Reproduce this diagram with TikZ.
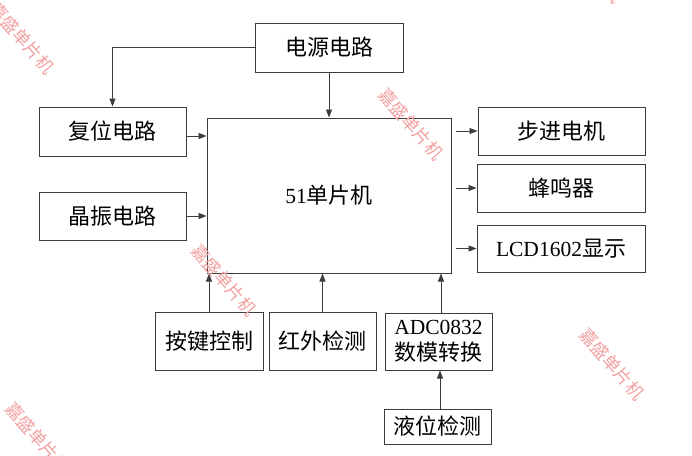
\documentclass[tikz,border=0pt]{standalone}
\usepackage{fontspec}
\setmainfont{Liberation Serif}
\newfontfamily\cjkfam{Noto Sans CJK SC}
\newcommand{\cj}{\cjkfam\fontsize{22}{28}\selectfont}
\usetikzlibrary{arrows.meta}
\definecolor{linec}{RGB}{60,60,60}
\definecolor{wmark}{RGB}{243,160,160}
\tikzset{
  box/.style={draw=linec, line width=1pt, fill=white, inner sep=0pt, align=center,
    font=\fontsize{21.5}{28}\selectfont, text=black},
  arr/.style={draw=linec, line width=0.8pt, -{Triangle[length=8pt,width=6pt]}},
  wm/.style={text=wmark, font=\cjkfam\fontsize{17.5}{17.5}\selectfont, rotate=-49}
}
\begin{document}
\begin{tikzpicture}[x=1pt,y=-1pt]
\useasboundingbox (0,0) rectangle (692,455);
\clip (0,0) rectangle (692,455);
\fill[white] (0,0) rectangle (692,455);
% boxes
\node[box, minimum width=148pt, minimum height=49pt] (pwr) at (329,47.5) {\cj 电源电路};
\node[box, minimum width=147pt, minimum height=49pt] (rst) at (112.5,131.5) {\cj 复位电路};
\node[box, minimum width=147pt, minimum height=48pt] (osc) at (112.5,216) {\cj 晶振电路};
\node[box, minimum width=244pt, minimum height=155pt] (mcu) at (329,195.5) {51{\cj 单片机}};
\node[box, minimum width=167pt, minimum height=48pt] (stp) at (561.5,131) {\cj 步进电机};
\node[box, minimum width=168pt, minimum height=48pt] (buz) at (561,188) {\cj 蜂鸣器};
\node[box, minimum width=168pt, minimum height=47pt] (lcd) at (561,248.5) {LCD1602{\cj 显示}};
\node[box, minimum width=108pt, minimum height=58pt] (key) at (209,341) {\cj 按键控制};
\node[box, minimum width=107pt, minimum height=58pt] (ir) at (322.5,341) {\cj 红外检测};
\node[box, minimum width=107pt, minimum height=57pt] (adc) at (438.5,341.5) {ADC0832\\[-2pt]{\cj 数模转换}};
\node[box, minimum width=107pt, minimum height=35pt] (lvl) at (437.5,426.5) {\cj 液位检测};
% connectors
\draw[arr] (pwr.west) -| (rst.north);
\draw[arr] (pwr.south) -- (mcu.north);
\coordinate (r1) at ([yshift=-4.5pt]rst.east);
\draw[arr] (r1) -- (r1 -| mcu.west);
\draw[arr] (osc.east) -- (osc.east -| mcu.west);
\coordinate (s1) at ([xshift=4pt]stp.west -| mcu.east);
\draw[arr] (s1) -- (stp.west);
\coordinate (b1) at ([xshift=4pt]buz.west -| mcu.east);
\draw[arr] (b1) -- (buz.west);
\coordinate (l1) at ([xshift=4pt]lcd.west -| mcu.east);
\draw[arr] (l1) -- (lcd.west);
\draw[arr] (key.north) -- (key.north |- mcu.south);
\draw[arr] (ir.north) -- (ir.north |- mcu.south);
\coordinate (a1) at ([xshift=2.5pt]adc.north);
\draw[arr] (a1) -- (a1 |- mcu.south);
\coordinate (v1) at ([xshift=2.5pt]lvl.north);
\draw[arr] (v1) -- (v1 |- adc.south);
% watermarks
\node[wm] (w1) at (22,38) {嘉盛单片机};
\node[wm] (w2) at (411,124) {嘉盛单片机};
\node[wm] (w3) at (224,280) {嘉盛单片机};
\node[wm] (w4) at (38,438) {嘉盛单片机};
\node[wm] (w5) at (612,364) {嘉盛单片机};
\node[wm] (w6) at (590,-33) {嘉盛单片机};
\end{tikzpicture}
\end{document}
